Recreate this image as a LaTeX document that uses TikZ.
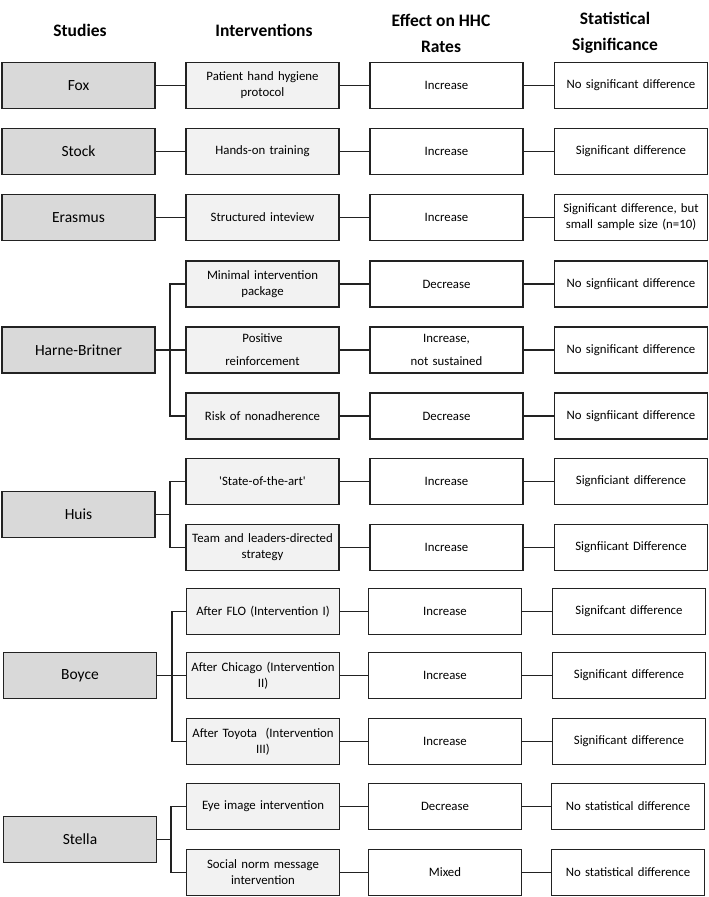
\documentclass[tikz,border=0pt]{standalone}
\usepackage{fontspec}
\setmainfont{Carlito}
\newfontfamily\plainquote{Carlito}
\definecolor{studyfill}{HTML}{D9D9D9}
\definecolor{intfill}{HTML}{F2F2F2}
\definecolor{edge}{HTML}{222222}
\begin{document}
\begin{tikzpicture}[x=1pt,y=-1pt,
  box/.style={draw=edge, line width=1.4pt, minimum height=46pt, inner sep=1pt, align=center, font=\fontsize{12.8}{16}\selectfont},
  studybox/.style={box, fill=studyfill, minimum width=153pt, text width=151pt, font=\fontsize{15.5}{18}\selectfont},
  intbox/.style={box, fill=intfill, minimum width=153pt, text width=151pt},
  effbox/.style={box, fill=white, minimum width=153pt, text width=151pt},
  sigbox/.style={box, fill=white, minimum width=153pt, text width=151pt},
  head/.style={font=\fontsize{17.5}{26}\selectfont\bfseries, align=center},
  conn/.style={draw=edge, line width=1.5pt}]
\useasboundingbox (0,0) rectangle (709,897);

% headers
\node[head] (hs) at (80,30) {Studies};
\node[head] (hi) at (264,30) {Interventions};
\node[head] (he) at (441,33) {Effect on HHC\\Rates};
\node[head] (hg) at (615,33) {Statistical\\Significance};

% Fox
\node[studybox] (fox) at (78.5,85.5) {Fox};
\node[intbox] (fox1) at (262.5,85.5) {Patient hand hygiene\\protocol};
\node[effbox] (fox1e) at (446.5,85.5) {Increase};
\node[sigbox] (fox1s) at (631,85.5) {No significant difference};
\draw[conn] (fox) -- (fox1); \draw[conn] (fox1) -- (fox1e); \draw[conn] (fox1e) -- (fox1s);

% Stock
\node[studybox] (stock) at (78.5,151.5) {Stock};
\node[intbox] (stock1) at (262.5,151.5) {Hands-on training};
\node[effbox] (stock1e) at (446.5,151.5) {Increase};
\node[sigbox] (stock1s) at (631,151.5) {Significant difference};
\draw[conn] (stock) -- (stock1); \draw[conn] (stock1) -- (stock1e); \draw[conn] (stock1e) -- (stock1s);

% Erasmus
\node[studybox] (eras) at (78.5,217.5) {Erasmus};
\node[intbox] (eras1) at (262.5,217.5) {Structured inteview};
\node[effbox] (eras1e) at (446.5,217.5) {Increase};
\node[sigbox] (eras1s) at (631,217.5) {Significant difference, but\\small sample size (n=10)};
\draw[conn] (eras) -- (eras1); \draw[conn] (eras1) -- (eras1e); \draw[conn] (eras1e) -- (eras1s);

% Harne-Britner
\node[studybox] (hb) at (78.5,350) {Harne-Britner};
\node[intbox] (hb1) at (262.5,284) {Minimal intervention\\package};
\node[effbox] (hb1e) at (446.5,284) {Decrease};
\node[sigbox] (hb1s) at (631,284) {No signfiicant difference};
\node[intbox] (hb2) at (262.5,350) {Positive\\[7pt]reinforcement};
\node[effbox] (hb2e) at (446.5,350) {Increase,\\[7pt]not sustained};
\node[sigbox] (hb2s) at (631,350) {No significant difference};
\node[intbox] (hb3) at (262.5,416) {Risk of nonadherence};
\node[effbox] (hb3e) at (446.5,416) {Decrease};
\node[sigbox] (hb3s) at (631,416) {No signfiicant difference};
\coordinate (hbj) at (170,350);
\draw[conn] (hb.east) -- (hb2.west);
\draw[conn] (hb1.west) -| (hbj) |- (hb3.west);
\draw[conn] (hb1) -- (hb1e); \draw[conn] (hb1e) -- (hb1s);
\draw[conn] (hb2) -- (hb2e); \draw[conn] (hb2e) -- (hb2s);
\draw[conn] (hb3) -- (hb3e); \draw[conn] (hb3e) -- (hb3s);

% Huis
\node[studybox] (huis) at (78.5,514.5) {Huis};
\node[intbox] (hu1) at (262.5,481.5) {{\plainquote 'State-of-the-art'}};
\node[effbox] (hu1e) at (446.5,481.5) {Increase};
\node[sigbox] (hu1s) at (631,481.5) {Signficiant difference};
\node[intbox] (hu2) at (262.5,547.5) {Team and leaders-directed\\strategy};
\node[effbox] (hu2e) at (446.5,547.5) {Increase};
\node[sigbox] (hu2s) at (631,547.5) {Signfiicant Difference};
\coordinate (huj) at (170,514.5);
\draw[conn] (huis.east) -- (huj);
\draw[conn] (hu1.west) -| (huj) |- (hu2.west);
\draw[conn] (hu1) -- (hu1e); \draw[conn] (hu1e) -- (hu1s);
\draw[conn] (hu2) -- (hu2e); \draw[conn] (hu2e) -- (hu2s);

% Boyce
\node[studybox] (boy) at (80,675.5) {Boyce};
\node[intbox] (bo1) at (263,611.5) {After FLO (Intervention I)};
\node[effbox] (bo1e) at (445,611.5) {Increase};
\node[sigbox] (bo1s) at (629,611.5) {Signifcant difference};
\node[intbox] (bo2) at (263,675.5) {After Chicago (Intervention\\II)};
\node[effbox] (bo2e) at (445,675.5) {Increase};
\node[sigbox] (bo2s) at (629,675.5) {Significant difference};
\node[intbox] (bo3) at (263,741.5) {After Toyota~ (Intervention\\III)};
\node[effbox] (bo3e) at (445,741.5) {Increase};
\node[sigbox] (bo3s) at (629,741.5) {Significant difference};
\coordinate (boj) at (172,675.5);
\draw[conn] (boy.east) -- (bo2.west);
\draw[conn] (bo1.west) -| (boj) |- (bo3.west);
\draw[conn] (bo1) -- (bo1e); \draw[conn] (bo1e) -- (bo1s);
\draw[conn] (bo2) -- (bo2e); \draw[conn] (bo2e) -- (bo2s);
\draw[conn] (bo3) -- (bo3e); \draw[conn] (bo3e) -- (bo3s);

% Stella
\node[studybox] (ste) at (80,839.5) {Stella};
\node[intbox] (st1) at (263,806.5) {Eye image intervention};
\node[effbox] (st1e) at (445,806.5) {Decrease};
\node[sigbox] (st1s) at (628,806.5) {No statistical difference};
\node[intbox] (st2) at (263,872.5) {Social norm message\\intervention};
\node[effbox] (st2e) at (445,872.5) {Mixed};
\node[sigbox] (st2s) at (628,872.5) {No statistical difference};
\coordinate (stj) at (171,839.5);
\draw[conn] (ste.east) -- (stj);
\draw[conn] (st1.west) -| (stj) |- (st2.west);
\draw[conn] (st1) -- (st1e); \draw[conn] (st1e) -- (st1s);
\draw[conn] (st2) -- (st2e); \draw[conn] (st2e) -- (st2s);
\end{tikzpicture}
\end{document}
